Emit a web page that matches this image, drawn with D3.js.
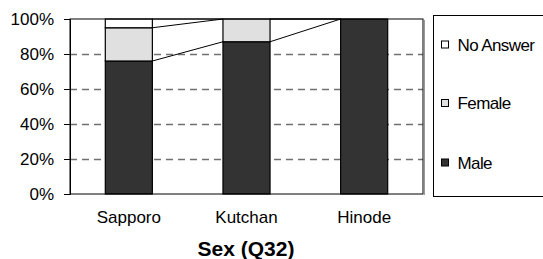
<!DOCTYPE html>
<html><head><meta charset="utf-8">
<script src="https://cdn.jsdelivr.net/npm/d3@7/dist/d3.min.js"></script>
<style>body{margin:0;background:#fff;}svg{display:block;font-family:Arial,"Liberation Sans",sans-serif;}</style>
</head><body><svg id="c" width="543" height="259"></svg>
<script>
const categories = ["Sapporo", "Kutchan", "Hinode"];
const seriesNames = ["Male", "Female", "No Answer"];
const male = [76, 87, 100];
const female = [19, 13, 0];
const noAnswer = [5, 0, 0];
const yTicks = [0, 20, 40, 60, 80, 100];
const colors = {"Male": "#333333", "Female": "#e0e0e0", "No Answer": "#ffffff"};
const title = "Sex (Q32)";

const svg = d3.select("#c");
const L = 70, R = 423, T = 19, B = 194;
const x = d3.scaleBand().domain(categories).range([L, R]).paddingInner(0.6).paddingOuter(0.3);
const y = d3.scaleLinear().domain([0, 100]).range([B, T]);

const table = categories.map((c, i) => ({cat: c, "Male": male[i], "Female": female[i], "No Answer": noAnswer[i]}));
const stacked = d3.stack().keys(seriesNames)(table);

// plot background
svg.append("rect").attr("x", L).attr("y", T).attr("width", R - L).attr("height", B - T).attr("fill", "#fff");

// grid
svg.append("g").selectAll("line").data(yTicks.filter(t => t > 0 && t < 100)).join("line")
  .attr("x1", L).attr("x2", R).attr("y1", d => Math.round(y(d)) + 0.5).attr("y2", d => Math.round(y(d)) + 0.5)
  .attr("stroke", "#707070").attr("stroke-width", 1.3).attr("stroke-dasharray", "7,5");

// connector lines
const bw = x.bandwidth();
stacked.forEach(s => {
  for (let i = 0; i < categories.length - 1; i++) {
    svg.append("line")
      .attr("x1", x(categories[i]) + bw).attr("y1", y(s[i][1]))
      .attr("x2", x(categories[i + 1])).attr("y2", y(s[i + 1][1]))
      .attr("stroke", "#000").attr("stroke-width", 1);
  }
});

// bars
svg.append("g").selectAll("g").data(stacked).join("g").attr("fill", d => colors[d.key])
  .selectAll("rect").data(d => d).join("rect")
  .attr("x", d => x(d.data.cat)).attr("width", bw)
  .attr("y", d => y(d[1])).attr("height", d => y(d[0]) - y(d[1]))
  .attr("stroke", d => (d[1] - d[0]) > 0 ? "#000" : "none").attr("stroke-width", 1.2);

// plot border
svg.append("rect").attr("x", L).attr("y", T).attr("width", R - L).attr("height", B - T)
  .attr("fill", "none").attr("stroke", "#000").attr("stroke-width", 1);
svg.append("line").attr("x1", R + 1.5).attr("x2", R + 1.5).attr("y1", T + 1).attr("y2", B + 1)
  .attr("stroke", "#999").attr("stroke-width", 1);

// y axis
const yAxis = svg.append("g").attr("transform", `translate(${L},0)`)
  .call(d3.axisLeft(y).tickValues(yTicks).tickFormat(d => d + "%").tickSize(6).tickPadding(10));
yAxis.select(".domain").attr("stroke", "#000");
yAxis.selectAll("text").attr("font-size", 17).attr("fill", "#000").attr("font-family", "Arial,'Liberation Sans',sans-serif");

// x labels
svg.append("g").selectAll("text").data(categories).join("text")
  .attr("x", d => x(d) + bw / 2).attr("y", 223).attr("text-anchor", "middle")
  .attr("font-size", 17).text(d => d);

// title
svg.append("text").attr("x", 246).attr("y", 256).attr("text-anchor", "middle")
  .attr("font-size", 21).attr("font-weight", "bold").text(title);

// legend
svg.append("rect").attr("x", 433.5).attr("y", 15.5).attr("width", 120).attr("height", 181)
  .attr("fill", "#fff").attr("stroke", "#000").attr("stroke-width", 1);
const legY = {"No Answer": 44.5, "Female": 103, "Male": 162.5};
const leg = svg.append("g").selectAll("g").data(seriesNames.slice().reverse()).join("g")
  .attr("transform", d => `translate(441,${legY[d]})`);
leg.append("rect").attr("x", 0.5).attr("y", -3.5).attr("width", 7).attr("height", 7)
  .attr("fill", d => colors[d]).attr("stroke", "#000");
leg.append("text").attr("x", 16.5).attr("y", 6).attr("font-size", 17).attr("letter-spacing", -0.6).text(d => d);
</script></body></html>
